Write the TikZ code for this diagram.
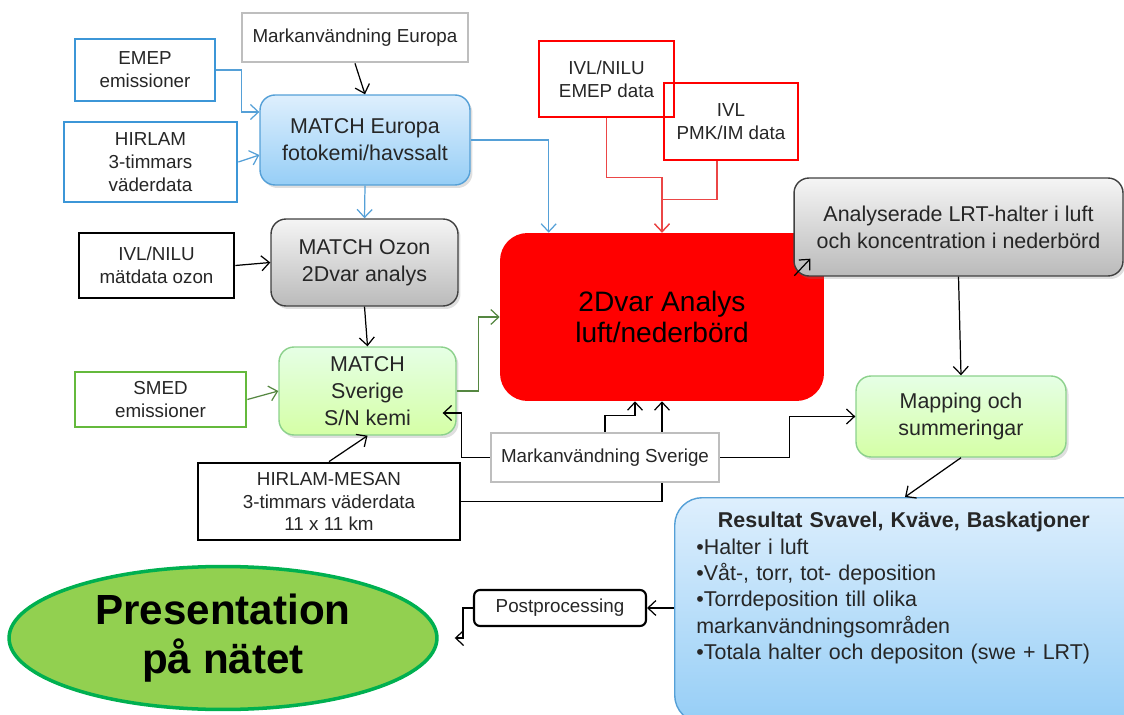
\documentclass[tikz,border=0pt]{standalone}
\usepackage{fontspec}
\setmainfont{Liberation Sans}
\usetikzlibrary{arrows.meta,calc,shapes.geometric,shadows}
\definecolor{in_blue}{RGB}{60, 150, 215}
\definecolor{in_green}{RGB}{100, 185, 60}
\definecolor{in_gray}{RGB}{190, 190, 190}
\definecolor{ln_blue}{RGB}{85, 160, 215}
\definecolor{ln_red}{RGB}{235, 70, 70}
\definecolor{ln_green}{RGB}{85, 135, 65}
\definecolor{sh_blue_top}{RGB}{222, 239, 253}
\definecolor{sh_blue_bot}{RGB}{150, 206, 246}
\definecolor{pres_fill}{RGB}{146, 208, 80}
\definecolor{pres_draw}{RGB}{0, 176, 80}
\tikzstyle{txt}=[font=\fontsize{10.7}{13}\selectfont]
\tikzstyle{mtxt}=[font=\fontsize{12.2}{15.5}\selectfont]
\tikzstyle{inp}=[rectangle,fill=white,line width=1.6pt,align=center,inner sep=2pt,txt,text=black!85]
\tikzstyle{proc}=[rectangle,rounded corners=0.3cm,line width=0.8pt,align=center,inner sep=2pt,mtxt,text=black!85,
  drop shadow={opacity=0.25,shadow xshift=0.05cm,shadow yshift=-0.06cm}]
\tikzstyle{bproc}=[proc,draw=ln_blue,top color=sh_blue_top,bottom color=sh_blue_bot]
\tikzstyle{gproc}=[proc,draw=black!75,top color=black!4,bottom color=black!27]
\tikzstyle{grproc}=[proc,draw=green!60!black!45,top color=green!10,bottom color=green!30!lime!35]
\tikzstyle{arr}=[-{Straight Barb[length=1.6mm,width=3mm]},line width=0.7pt]

\begin{document}
\begin{tikzpicture}[x=0.02cm,y=-0.02cm]
    \useasboundingbox (0,0) rectangle (1124,715);
    % inputs, left column
    \node [inp,draw=in_gray,minimum width=4.52cm,minimum height=0.98cm] (euland) at (355,37.5) {Markanvändning Europa};
    \node [inp,draw=in_blue,minimum width=2.8cm,minimum height=1.24cm] (emep) at (145,70) {EMEP\\emissioner};
    \node [inp,draw=in_blue,minimum width=3.46cm,minimum height=1.6cm] (hirlam) at (150.5,162) {HIRLAM\\3-timmars\\väderdata};
    \node [inp,draw=black,minimum width=3.1cm,minimum height=1.3cm] (ozondata) at (156.5,265.5) {IVL/NILU\\mätdata ozon};
    \node [inp,draw=in_green,minimum width=3.42cm,minimum height=1.1cm] (smed) at (160.5,399.5) {SMED\\emissioner};
    \node [inp,draw=black,minimum width=5.24cm,minimum height=1.54cm] (mesan) at (329,501.5) {HIRLAM-MESAN\\3-timmars väderdata\\11 x 11 km};
    % MATCH models
    \node [bproc,minimum width=4.2cm,minimum height=1.8cm] (mEuropa) at (365,140) {MATCH Europa\\fotokemi/havssalt};
    \node [gproc,minimum width=3.74cm,minimum height=1.74cm] (mOzon) at (364.5,262.5) {MATCH Ozon\\2Dvar analys};
    \node [grproc,minimum width=3.54cm,minimum height=1.76cm] (mSverige) at (367.5,391) {MATCH\\Sverige\\S/N kemi};
    % observations
    \node [inp,draw=red,fill=none,minimum width=2.7cm,minimum height=1.52cm] (emepdata) at (606.5,79) {IVL/NILU\\EMEP data};
    \node [inp,draw=red,fill=none,minimum width=2.68cm,minimum height=1.54cm] (pmk) at (731,121.5) {IVL\\PMK/IM data};
    % analysis
    \node [rectangle,rounded corners=0.55cm,fill=red,align=center,minimum width=6.48cm,minimum height=3.36cm,
      font=\fontsize{16}{18}\selectfont] (analys) at (662,317) {2Dvar Analys\\luft/nederbörd};
    \node [gproc,minimum width=6.58cm,minimum height=1.96cm] (lrt) at (958.5,227) {Analyserade LRT-halter i luft\\och koncentration i nederbörd};
    \node [grproc,minimum width=4.2cm,minimum height=1.62cm] (mapping) at (961,416.5) {Mapping och\\summeringar};
    \draw [arr] (mesan.east) -| (analys.south);
    \node [inp,draw=in_gray,minimum width=4.56cm,minimum height=0.98cm] (sveland) at (605,457.5) {Markanvändning Sverige};
    % results
    \node [bproc,rounded corners=0.55cm,anchor=north west,minimum width=9.6cm,minimum height=4.5cm] (result) at (674,497) {};
    \node [anchor=north west,text width=8.3cm,align=left,inner sep=0pt,text=black!85,
      font=\fontsize{12.2}{15}\selectfont] (resulttxt) at (696,512)
      {\makebox[\linewidth]{\bfseries Resultat Svavel, Kväve, Baskatjoner}\\
       •Halter i luft\\
       •Våt-, torr, tot- deposition\\
       •Torrdeposition till olika\\
       markanvändningsområden\\
       •Totala halter och depositon (swe + LRT)};
    \node [rectangle,rounded corners=0.12cm,draw=black,fill=white,line width=1.2pt,txt,text=black!85,
      minimum width=3.44cm,minimum height=0.72cm] (post) at (560,608) {Postprocessing};
    \node [ellipse,fill=pres_fill,draw=pres_draw,line width=2pt,inner sep=0pt,minimum width=8.56cm,minimum height=2.86cm,
      align=center,font=\fontsize{24}{27.5}\selectfont\bfseries] (present) at (223,638) {Presentation\\på nätet};
    % connectors
    \draw [arr] (euland.south) to (mEuropa.north);
    \draw [arr,ln_blue] (emep.east) -- ++(25,0) |- ($(mEuropa.west)+(0,-28)$);
    \draw [arr,ln_blue] (hirlam.east) to ($(mEuropa.west)+(0,15)$);
    \draw [arr,ln_blue] (mEuropa.south) to (mOzon.north);
    \draw [arr,ln_blue] (mEuropa.east) -| ($(analys.north west)+(49,0)$);
    \draw [arr] (ozondata.east) to (mOzon.west);
    \draw [arr] (mOzon.south) to (mSverige.north);
    \draw [arr,ln_green] (smed.east) to (mSverige.west);
    \draw [arr] (mesan.north) to (mSverige.south);
    \draw [arr,ln_green] (mSverige.east) -- ++(22,0) |- (analys.west);
    \draw [arr,ln_red] (emepdata.south) -- ++(0,59) -| (analys.north);
    \draw [arr,ln_red] ($(pmk.south)+(-14,0)$) -- ++(0,38) -| (analys.north);
    \draw [arr] (sveland.north) -- ++(0,-16) -| ($(analys.south)+(-27,0)$);
    \draw [arr] (sveland.east) -- ++(69,0) |- (mapping.west);
    \draw [arr] (sveland.west) -- ++(-28,0) |- ($(mSverige.east)+(-14,22)$);
    \draw [arr] ($(lrt.south west)+(1,-1)$) to ($(lrt.south west)+(17,-18)$);
    \draw [arr] (lrt.south) to (mapping.north);
    \draw [arr] (mapping.south) to ($(result.north west)+(231,0)$);
    \draw [arr] (post.east -| result.west) to (post.east);
    \draw [arr] (post.west) -- ++(-10,0) |- ($(present.east)+(16,0)$);
\end{tikzpicture}
\end{document}
